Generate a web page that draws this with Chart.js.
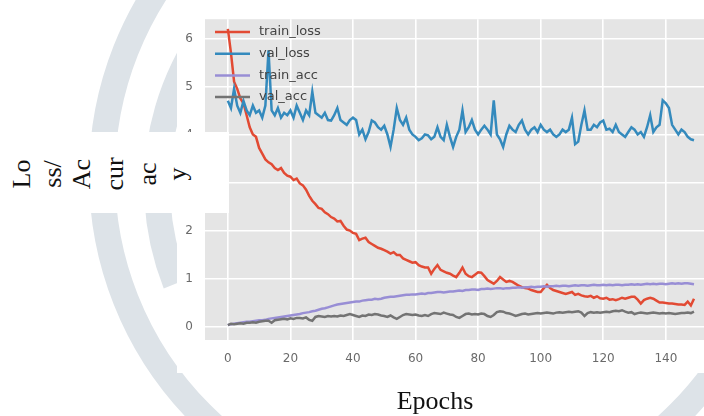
<!DOCTYPE html>
<html>
<head>
<meta charset="utf-8">
<script src="https://cdn.jsdelivr.net/npm/chart.js@4.4.1/dist/chart.umd.min.js"></script>
<style>
  html, body { margin: 0; padding: 0; background: #fff; }
  #wrap { position: relative; width: 704px; height: 416px; overflow: hidden; }
  #c { position: absolute; left: 0; top: 0; }
  #ylab { position: absolute; left: 0; top: 132px; width: 229px; height: 81px; background: #fff; }
  .yp { position: absolute; top: 42px; font-family: "Liberation Serif", "DejaVu Serif", serif; font-size: 26px; color: #111;
        transform: translate(-50%, -50%) rotate(-90deg); white-space: nowrap; line-height: 1; }
  #xlab { position: absolute; left: 435px; top: 401px; transform: translate(-50%, -50%);
          font-family: "Liberation Serif", "DejaVu Serif", serif; font-size: 26px; color: #111; white-space: nowrap; line-height: 1; }
</style>
</head>
<body>
<div id="wrap">
  <canvas id="c" width="704" height="416"></canvas>
  <div id="ylab"></div>
  <div id="xlab">Epochs</div>
</div>
<script>
const epochs = Array.from({length: 150}, (_, i) => i);

const trainLoss = [
  6.2, 5.7, 5.1, 4.95, 4.75, 4.65, 4.4, 4.15, 4.0, 3.95,
  3.72, 3.6, 3.48, 3.42, 3.38, 3.3, 3.26, 3.3, 3.2, 3.14,
  3.12, 3.05, 3.08, 2.98, 2.94, 2.85, 2.72, 2.62, 2.55, 2.47,
  2.45, 2.38, 2.34, 2.28, 2.25, 2.19, 2.2, 2.1, 2.02, 2.0,
  1.95, 1.93, 1.8, 1.83, 1.85, 1.76, 1.72, 1.68, 1.64, 1.62,
  1.59, 1.56, 1.52, 1.55, 1.49, 1.49, 1.42, 1.39, 1.36, 1.33,
  1.34, 1.28, 1.25, 1.23, 1.23, 1.1, 1.2, 1.28, 1.18, 1.15,
  1.12, 1.1, 1.06, 1.03, 1.12, 1.23, 1.1, 1.05, 1.03, 1.08,
  1.13, 1.12, 1.05, 0.97, 0.93, 0.89, 0.95, 1.03, 0.98, 0.93,
  0.95, 0.93, 0.89, 0.85, 0.82, 0.8, 0.79, 0.76, 0.74, 0.72,
  0.72, 0.8, 0.87, 0.8, 0.76, 0.74, 0.72, 0.7, 0.68, 0.7,
  0.72, 0.66, 0.68, 0.65, 0.63, 0.62, 0.64, 0.6, 0.63, 0.59,
  0.58, 0.6, 0.56, 0.57, 0.55, 0.57, 0.6, 0.58, 0.6, 0.62,
  0.62, 0.56, 0.48, 0.55, 0.58, 0.6, 0.58, 0.54, 0.5, 0.5,
  0.49, 0.48, 0.48, 0.47, 0.46, 0.46, 0.45, 0.52, 0.44, 0.58
];

const valLoss = [
  4.7, 4.55, 4.95, 4.6, 4.45, 4.7, 4.5, 4.4, 4.6, 4.45,
  4.5, 4.35, 4.6, 5.75, 4.5, 4.4, 4.55, 4.35, 4.45, 4.4,
  4.5, 4.35, 4.6, 4.45, 4.3, 4.5, 4.4, 4.89, 4.45, 4.4,
  4.35, 4.45, 4.3, 4.29, 4.4, 4.55, 4.3, 4.25, 4.2, 4.3,
  4.35, 4.3, 4.0, 4.1, 3.9, 4.05, 4.29, 4.25, 4.15, 4.1,
  4.18, 4.0, 3.74, 4.1, 4.55, 4.3, 4.2, 4.35, 4.1, 4.0,
  3.95, 3.88, 3.92, 4.0, 3.98, 3.9, 3.95, 4.15, 3.95, 3.88,
  4.2, 3.95, 3.74, 3.95, 4.1, 4.5, 4.05, 4.15, 4.3, 4.1,
  4.0, 4.1, 4.18, 4.1, 4.0, 4.71, 4.0, 3.9, 3.74, 4.0,
  4.18, 4.1, 4.05, 4.2, 4.29, 4.1, 4.0, 4.1, 4.15, 4.05,
  4.2, 4.1, 4.05, 4.1, 4.0, 3.95, 4.0, 4.1, 4.05, 4.1,
  4.35, 3.8, 3.85, 4.2, 4.5, 4.1, 4.1, 4.2, 4.15, 4.25,
  4.29, 4.1, 4.12, 4.05, 4.2, 4.05, 4.0, 3.95, 4.05, 4.15,
  4.1, 4.0, 4.05, 3.95, 4.15, 4.4, 4.05, 4.15, 4.2, 4.71,
  4.65, 4.55, 4.2, 4.1, 4.0, 4.1, 4.05, 3.95, 3.9, 3.88
];

const trainAcc = [
  0.03, 0.05, 0.06, 0.07, 0.08, 0.09, 0.1, 0.1, 0.11, 0.12,
  0.13, 0.13, 0.14, 0.16, 0.17, 0.18, 0.19, 0.2, 0.21, 0.22,
  0.23, 0.24, 0.25, 0.26, 0.28, 0.29, 0.3, 0.32, 0.33, 0.35,
  0.37, 0.38, 0.4, 0.42, 0.44, 0.46, 0.47, 0.48, 0.49, 0.5,
  0.51, 0.52, 0.52, 0.54, 0.55, 0.56, 0.56, 0.58, 0.57, 0.58,
  0.6, 0.61, 0.62, 0.62, 0.63, 0.64, 0.65, 0.66, 0.66, 0.67,
  0.67, 0.68, 0.69, 0.68, 0.7, 0.7, 0.71, 0.72, 0.72, 0.71,
  0.72, 0.73, 0.73, 0.74, 0.75, 0.74, 0.76, 0.76, 0.77, 0.77,
  0.76, 0.78, 0.78, 0.79, 0.78, 0.79, 0.8, 0.8, 0.79, 0.8,
  0.8, 0.81, 0.81, 0.82, 0.81, 0.82, 0.82, 0.83, 0.82, 0.83,
  0.83, 0.84, 0.83, 0.84, 0.84, 0.85, 0.84, 0.85, 0.85, 0.84,
  0.85, 0.86, 0.85, 0.86, 0.86, 0.85, 0.86, 0.87, 0.86, 0.86,
  0.87, 0.86, 0.87, 0.86, 0.87, 0.87, 0.86, 0.87, 0.87, 0.88,
  0.87, 0.88, 0.87, 0.88, 0.89, 0.88, 0.89, 0.88, 0.89, 0.89,
  0.88, 0.89, 0.9, 0.89, 0.9, 0.89, 0.9, 0.9, 0.89, 0.88
];

const valAcc = [
  0.03, 0.06, 0.05, 0.06, 0.07, 0.06, 0.08, 0.08, 0.09, 0.08,
  0.1, 0.11, 0.12, 0.12, 0.08, 0.13, 0.14, 0.15, 0.16, 0.15,
  0.17, 0.16, 0.18, 0.18, 0.17, 0.19, 0.14, 0.12, 0.2, 0.22,
  0.21, 0.2, 0.22, 0.21, 0.22, 0.21, 0.23, 0.22, 0.24, 0.26,
  0.24, 0.22, 0.2, 0.23, 0.22, 0.25, 0.24, 0.26, 0.25, 0.23,
  0.22, 0.2, 0.23, 0.19, 0.16, 0.2, 0.24, 0.26, 0.25, 0.24,
  0.25, 0.23, 0.22, 0.24, 0.22, 0.26, 0.28, 0.27, 0.26, 0.29,
  0.27, 0.25, 0.24, 0.2, 0.18, 0.22, 0.26, 0.27, 0.25, 0.26,
  0.25, 0.27, 0.26, 0.22, 0.2, 0.24, 0.3, 0.32, 0.31, 0.28,
  0.27, 0.25, 0.22, 0.24, 0.26, 0.27, 0.25, 0.26, 0.27, 0.28,
  0.27, 0.28, 0.29, 0.28, 0.27, 0.29, 0.3, 0.29, 0.3, 0.31,
  0.3, 0.31, 0.32, 0.29, 0.22, 0.28, 0.3, 0.29, 0.3, 0.29,
  0.3, 0.31, 0.3, 0.32, 0.33, 0.32, 0.34, 0.31, 0.29, 0.3,
  0.26, 0.28, 0.29, 0.28, 0.27, 0.28, 0.29, 0.28, 0.27, 0.28,
  0.27, 0.28, 0.27, 0.26, 0.27, 0.28, 0.28, 0.29, 0.28, 0.31
];

const seriesNames = ["train_loss", "val_loss", "train_acc", "val_acc"];
const xTicks = [0, 20, 40, 60, 80, 100, 120, 140];
const yTicks = [0, 1, 2, 3, 4, 5, 6];
const yLabelPieces = ["Lo", "ss/", "Ac", "cur", "ac", "y"];
const xLabel = "Epochs";

const colors = ["#E24A33", "#348ABD", "#988ED5", "#737373"];
const seriesData = [trainLoss, valLoss, trainAcc, valAcc];

const ylab = document.getElementById("ylab");
const pieceX = [22, 53, 82, 115, 148, 178];
yLabelPieces.forEach((t, i) => {
  const s = document.createElement("span");
  s.className = "yp";
  s.textContent = t;
  s.style.left = pieceX[i] + "px";
  ylab.appendChild(s);
});
document.getElementById("xlab").textContent = xLabel;

const backgroundPlugin = {
  id: "bg",
  beforeDraw(chart) {
    const ctx = chart.ctx;
    const a = chart.chartArea;
    ctx.save();
    ctx.fillStyle = "#ffffff";
    ctx.fillRect(0, 0, chart.width, chart.height);
    ctx.strokeStyle = "#dde3e8";
    ctx.lineWidth = 26;
    ctx.beginPath();
    ctx.arc(440, 175, 338, 0, Math.PI * 2);
    ctx.stroke();
    ctx.lineWidth = 26;
    ctx.beginPath();
    ctx.arc(425, 185, 268, Math.PI * 0.88, Math.PI * 1.3);
    ctx.stroke();
    ctx.fillStyle = "#ffffff";
    ctx.fillRect(177, 0, 704 - 177, 373);
    ctx.fillStyle = "#E5E5E5";
    ctx.fillRect(a.left, a.top, a.right - a.left, a.bottom - a.top);
    ctx.restore();
  }
};

const legendPlugin = {
  id: "mplLegend",
  afterDraw(chart) {
    const ctx = chart.ctx;
    ctx.save();
    ctx.font = "13px 'DejaVu Sans'";
    ctx.textBaseline = "middle";
    seriesNames.forEach((name, i) => {
      const y = 32 + i * 21.7;
      ctx.strokeStyle = colors[i];
      ctx.lineWidth = 2.5;
      ctx.beginPath();
      ctx.moveTo(215, y);
      ctx.lineTo(250, y);
      ctx.stroke();
      ctx.fillStyle = "#444444";
      ctx.fillText(name, 259, y);
    });
    ctx.restore();
  }
};

new Chart(document.getElementById("c"), {
  type: "line",
  data: {
    labels: epochs,
    datasets: seriesData.map((d, i) => ({
      label: seriesNames[i],
      data: d,
      borderColor: colors[i],
      backgroundColor: colors[i],
      borderWidth: 2.5,
      pointRadius: 0,
      tension: 0,
      fill: false,
      order: 3 - i
    }))
  },
  options: {
    responsive: false,
    animation: false,
    devicePixelRatio: 1,
    layout: { padding: { left: 177, top: 8, right: 0, bottom: 43 } },
    plugins: { legend: { display: false }, tooltip: { enabled: false } },
    scales: {
      x: {
        type: "linear",
        min: -7.3,
        max: 152.2,
        afterBuildTicks: (s) => { s.ticks = xTicks.map(v => ({ value: v })); },
        afterFit: (s) => { s.height = 33; },
        grid: { color: "#ffffff", lineWidth: 1.6, drawTicks: false },
        border: { display: false },
        ticks: { color: "#6a6a6a", font: { family: "DejaVu Sans", size: 12 }, padding: 12, maxRotation: 0, autoSkip: false }
      },
      y: {
        type: "linear",
        min: -0.28,
        max: 6.4,
        afterBuildTicks: (s) => { s.ticks = yTicks.map(v => ({ value: v })); },
        afterFit: (s) => { s.width = 28; },
        grid: { color: "#ffffff", lineWidth: 1.6, drawTicks: false },
        border: { display: false },
        ticks: { color: "#6a6a6a", font: { family: "DejaVu Sans", size: 12 }, padding: 12 }
      }
    }
  },
  plugins: [backgroundPlugin, legendPlugin]
});
</script>
</body>
</html>
